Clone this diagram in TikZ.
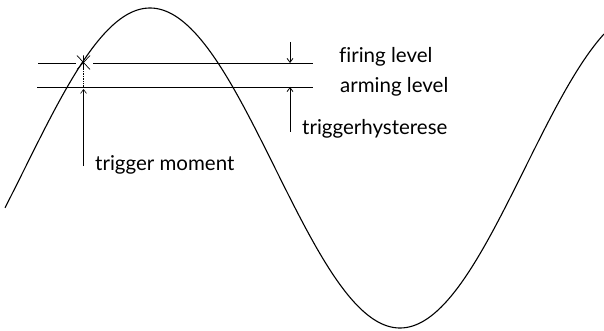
\documentclass[tikz,border=0pt]{standalone}
\usepackage{fontspec}
\setmainfont{Lato}[Ligatures=NoCommon]
\usetikzlibrary{arrows.meta}

\begin{document}
\begin{tikzpicture}[x=1pt, y=-1pt,
  every node/.style={font=\fontsize{20.5}{24}\selectfont, inner sep=0pt},
  level/.style={line width=0.9pt},
  marker/.style={line width=0.8pt, -{Straight Barb[length=4pt, width=6pt]}}]
  \useasboundingbox (0,0) rectangle (604,331);

  % signal
  \draw[line width=1.1pt] plot[domain=5:604, samples=240]
    (\x, {168-160*cos((\x-150)/500*360)});

  % trigger levels
  \coordinate (fireL) at (38,63);
  \coordinate (fireR) at (313,63);
  \coordinate (armL) at (37,87);
  \coordinate (armR) at (313,87);
  \draw[level] (fireL) -- (76,63);
  \draw[level] (93,63) -- (fireR);
  \draw[level] (armL) -- (armR);

  % trigger point (asterisk)
  \coordinate (trig) at (83.5,62.5);
  \draw[line width=0.7pt] ([yshift=-7pt]trig) -- ([yshift=7pt]trig)
    ([shift={(-6.5,-7)}]trig) -- ([shift={(6.5,7)}]trig)
    ([shift={(-6.5,7)}]trig) -- ([shift={(6.5,-7)}]trig);
  \draw[densely dotted, line width=0.7pt] (trig) -- (83.5,87);

  % trigger moment
  \coordinate (moment) at (83.5,166);
  \draw[line width=0.6pt, -{Straight Barb[length=4pt, width=6pt]}] (moment) -- (83.5,89);
  \node[anchor=base west] (momentlbl) at (95,170) {trigger moment};

  % hysteresis
  \coordinate (hysTop) at (290,42);
  \coordinate (hysBot) at (290,132);
  \draw[marker] (hysTop) -- (290,63);
  \draw[marker] (hysBot) -- (290,87);
  \node[anchor=base west] (firelbl) at (339,63) {firing level};
  \node[anchor=base west] (armlbl) at (340,93) {arming level};
  \node[anchor=base west] (hyslbl) at (302,135) {triggerhysterese};
\end{tikzpicture}
\end{document}
